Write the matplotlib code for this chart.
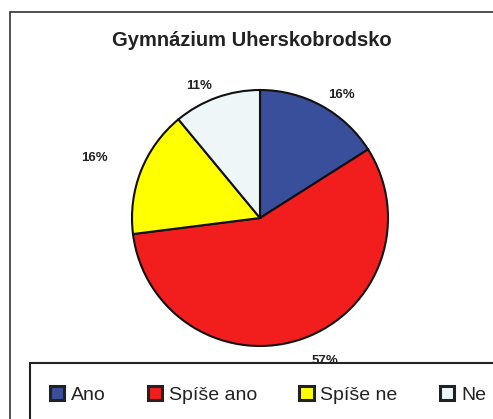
import matplotlib
matplotlib.use("Agg")
import matplotlib.pyplot as plt
from matplotlib.patches import Rectangle
import numpy as np

plt.rcParams['font.family'] = ['Liberation Sans', 'DejaVu Sans']

categories = ["Ano", "Spíše ano", "Spíše ne", "Ne"]
values = [16, 57, 16, 11]
colors = ["#3a4f9c", "#f21d1d", "#ffff00", "#eef6f8"]
label_dist = [1.1, 1.19, 1.28, 1.1]

W, H = 493, 419
fig = plt.figure(figsize=(W / 100, H / 100), dpi=100)

# outer chart frame
fig.patches.append(Rectangle((10 / W, -0.1), 1.2, (H - 12) / H + 0.1,
                             transform=fig.transFigure, facecolor="white",
                             edgecolor="#333333", linewidth=1.2, zorder=0))

fig.text(252 / W, 1 - 40 / H, "Gymnázium Uherskobrodsko", ha="center",
         va="center", fontsize=14.5, fontweight="bold", color="#222222")

cx, cy, r = 260, 218, 128
ax = fig.add_axes([(cx - r) / W, (H - cy - r) / H, 2 * r / W, 2 * r / H])
wedges, texts = ax.pie(values, colors=colors, startangle=90, counterclock=False,
                       labels=[f"{v}%" for v in values], labeldistance=1.1,
                       wedgeprops=dict(edgecolor="#111111", linewidth=1.5),
                       textprops=dict(fontsize=9.5, fontweight="bold", color="#222222"))
ax.set_xlim(-1, 1)
ax.set_ylim(-1, 1)
ax.set_zorder(1)

for w, t, d in zip(wedges, texts, label_dist):
    ang = np.deg2rad((w.theta1 + w.theta2) / 2)
    t.set_position((d * np.cos(ang), d * np.sin(ang)))

# legend box at the bottom, drawn over the lowest label
fig.patches.append(Rectangle((30 / W, -0.1), 1.2, (H - 363) / H + 0.1,
                             transform=fig.transFigure, facecolor="white",
                             edgecolor="#222222", linewidth=1.5, zorder=2))

handles = [Rectangle((0, 0), 1, 1, facecolor=c, edgecolor="#222222", linewidth=2.2)
           for c in colors]
leg = fig.legend(handles, categories, ncol=4, frameon=False,
                 loc="center left", bbox_to_anchor=(40 / W, 1 - 395 / H),
                 fontsize=14, handlelength=0.75, handleheight=0.75,
                 handletextpad=0.35, columnspacing=2.15, borderpad=0)
leg.set_zorder(3)
for t in leg.get_texts():
    t.set_color("#222222")

fig.savefig("out.png", dpi=100)
